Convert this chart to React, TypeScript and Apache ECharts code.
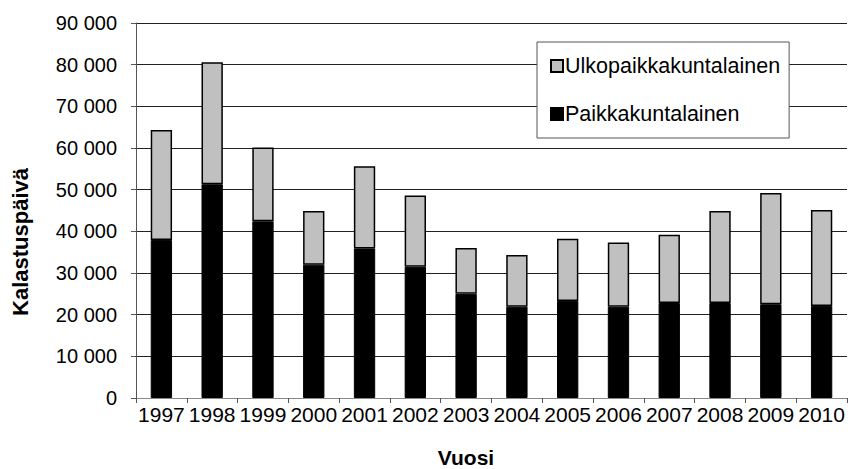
import React, { useEffect, useRef } from "react";
import * as echarts from "echarts";

const years = ["1997", "1998", "1999", "2000", "2001", "2002", "2003", "2004", "2005", "2006", "2007", "2008", "2009", "2010"];
const totals = [64300, 80600, 60100, 44900, 55600, 48600, 36000, 34300, 38200, 37300, 39200, 44900, 49200, 45100];
const paikka = [37900, 51300, 42400, 32000, 35900, 31500, 25000, 21900, 23300, 21900, 22800, 22800, 22500, 22100];
const ulko = totals.map((t, i) => t - paikka[i]);

const FONT = "'Liberation Sans', Arial, sans-serif";

function fmt(v: number) {
  const s = String(Math.round(v));
  return s.replace(/\B(?=(\d{3})+(?!\d))/g, " ");
}

export default function App() {
  const ref = useRef<HTMLDivElement>(null);
  useEffect(() => {
    if (!ref.current) return;
    const chart = echarts.init(ref.current, null, { renderer: "svg" });
    chart.setOption({
      animation: false,
      backgroundColor: "#ffffff",
      textStyle: { fontFamily: FONT },
      grid: { left: 136, right: 1, top: 23, bottom: 71, containLabel: false, outerBoundsMode: "none" },
      legend: {
        orient: "vertical",
        left: 537,
        top: 42,
        data: ["Ulkopaikkakuntalainen", "Paikkakuntalainen"],
        backgroundColor: "#ffffff",
        borderColor: "#555555",
        borderWidth: 1,
        padding: [13, 9, 13, 13],
        itemGap: 26,
        itemWidth: 12,
        itemHeight: 12,
        icon: "rect",
        textStyle: { fontSize: 21.5, color: "#000", fontFamily: FONT, padding: [0, 0, 0, -3] },
      },
      graphic: [
        {
          type: "text",
          x: 20,
          y: 242,
          rotation: Math.PI / 2,
          style: {
            text: "Kalastuspäivä",
            fontSize: 22,
            fontWeight: "bold",
            fill: "#000",
            fontFamily: FONT,
            align: "center",
            verticalAlign: "middle",
          },
        },
        {
          type: "text",
          x: 466,
          y: 468,
          style: {
            text: "Vuosi",
            fontSize: 21,
            fontWeight: "bold",
            fill: "#000",
            fontFamily: FONT,
            align: "center",
            verticalAlign: "bottom",
          },
        },
      ],
      xAxis: {
        type: "category",
        data: years,
        axisLine: { lineStyle: { color: "#888888", width: 1 } },
        axisTick: { show: true, alignWithLabel: false, length: 5, lineStyle: { color: "#555" } },
        axisLabel: { fontSize: 21, color: "#000", margin: 6, interval: 0, fontFamily: FONT },
      },
      yAxis: {
        type: "value",
        min: 0,
        max: 90000,
        interval: 10000,
        axisLine: { show: true, lineStyle: { color: "#555555", width: 1 } },
        axisTick: { show: true, length: 5, lineStyle: { color: "#555" } },
        axisLabel: { fontSize: 20, color: "#000", margin: 19, formatter: (v: number) => fmt(v), fontFamily: FONT },
        splitLine: { show: true, lineStyle: { color: "#222222", width: 1 } },
      },
      series: [
        {
          name: "Paikkakuntalainen",
          type: "bar",
          stack: "total",
          data: paikka,
          barWidth: "42%",
          itemStyle: { color: "#000000", borderColor: "#000000", borderWidth: 1 },
        },
        {
          name: "Ulkopaikkakuntalainen",
          type: "bar",
          stack: "total",
          data: ulko,
          barWidth: "42%",
          itemStyle: { color: "#c0c0c0", borderColor: "#000000", borderWidth: 1.5 },
        },
      ],
    });
    return () => chart.dispose();
  }, []);
  return <div ref={ref} style={{ width: 848, height: 469, position: "absolute", left: 0, top: 0 }} />;
}
